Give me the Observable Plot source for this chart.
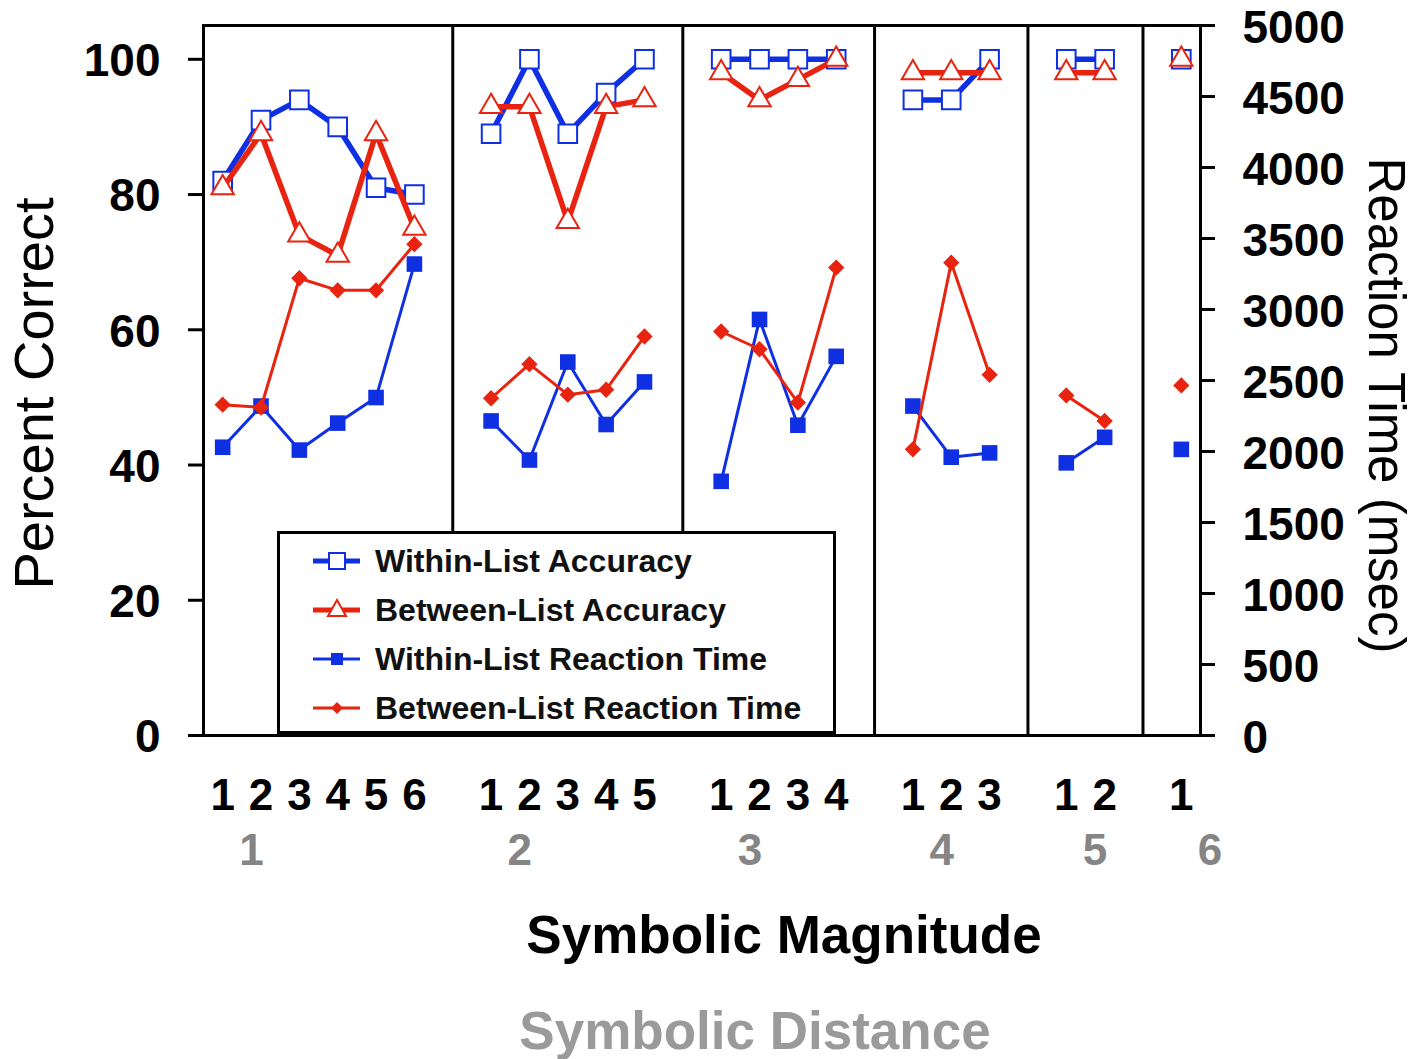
<!DOCTYPE html>
<html>
<head>
<meta charset="utf-8">
<script src="https://cdn.jsdelivr.net/npm/d3@7"></script>
<script src="https://cdn.jsdelivr.net/npm/@observablehq/plot@0.6"></script>
<style>
html, body { margin:0; padding:0; background:#fff; }
#wrap { position: relative; width: 1422px; height: 1059px; font-family: "Liberation Sans", Arial, sans-serif; overflow:hidden; }
#legend { position:absolute; left:277px; top:531px; width:559px; height:203px; box-sizing:border-box; border:3px solid #000; background:#fff; }
.row { position:absolute; left:0; height:40px; width:100%; }
.row svg { position:absolute; left:30px; top:5px; }
.row span { position:absolute; left:95px; top:0; line-height:40px; font-weight:bold; font-size:32px; color:#111; white-space:nowrap; }
</style>
</head>
<body>
<div id="wrap"></div>
<script>
// ---- data ----
const distance  = [1,1,1,1,1,1, 2,2,2,2,2, 3,3,3,3, 4,4,4, 5,5, 6];
const magnitude = [1,2,3,4,5,6, 1,2,3,4,5, 1,2,3,4, 1,2,3, 1,2, 1];
const withinAccuracy  = [82,91,94,90,81,80, 89,100,89,95,100, 100,100,100,100, 94,94,100, 100,100, 100];
const betweenAccuracy = [81,89,74,71,89,75, 93,93,76,93,94, 98,94,97,100, 98,98,98, 98,98, 100];
const withinRT  = [2030,2320,2010,2200,2380,3320, 2215,1940,2630,2190,2490, 1790,2930,2185,2670, 2320,1960,1990, 1920,2100, 2015];
const betweenRT = [2330,2310,3220,3135,3135,3460, 2375,2615,2400,2435,2810, 2845,2720,2345,3295, 2015,3330,2540, 2395,2215, 2465];
const accuracyTicks = [0,20,40,60,80,100];
const rtTicks = [0,500,1000,1500,2000,2500,3000,3500,4000,4500,5000];
const seriesNames = ["Within-List Accuracy","Between-List Accuracy","Within-List Reaction Time","Between-List Reaction Time"];

const BLUE = "#0f2fe3", RED = "#e8230f";
const yMax = 105, rtMax = 5000;
const toY = v => v * yMax / rtMax;

// slot layout: each distance group followed by a one-slot gap
const groups = Array.from(new Set(distance));
const groupSize = groups.map(g => distance.filter(d => d === g).length);
const groupOffset = new Map();
{ let o = 0; groups.forEach((g, k) => { groupOffset.set(g, o); o += groupSize[k] + 1; }); }
const rows = distance.map((d, i) => ({
  distance: d, magnitude: magnitude[i],
  slot: groupOffset.get(d) + magnitude[i] - 1,
  wAcc: withinAccuracy[i], bAcc: betweenAccuracy[i],
  wRT: withinRT[i], bRT: betweenRT[i]
}));
const separators = groups.slice(1).map(g => groupOffset.get(g) - 1);
const magByX = new Map(rows.map(r => [r.slot, r.magnitude]));
const distLabelX = groups.map(g => groupOffset.get(g) + 0.75);
const distByX = new Map(groups.map(g => [groupOffset.get(g) + 0.75, g]));
const rtY = rtTicks.map(toY);
const rtFormat = d => String(Math.round(d * rtMax / yMax));

const diamond = {draw(ctx, size) { const r = Math.sqrt(size / 2); ctx.moveTo(0, -r); ctx.lineTo(r, 0); ctx.lineTo(0, r); ctx.lineTo(-r, 0); ctx.closePath(); }};

const chart = Plot.plot({
  width: 1422, height: 1059,
  marginLeft: 203, marginRight: 222, marginTop: 25, marginBottom: 324,
  x: {domain: [-0.5, 25.5]},
  y: {domain: [0, yMax]},
  style: {fontFamily: "'Liberation Sans', Arial, sans-serif", background: "white", color: "black"},
  marks: [
    Plot.ruleX(separators, {y1: 0, y2: yMax, stroke: "#000", strokeWidth: 3}),
    // Within-list accuracy
    Plot.line(rows, {x: "slot", y: "wAcc", z: "distance", stroke: BLUE, strokeWidth: 5.5}),
    Plot.dot(rows, {x: "slot", y: "wAcc", symbol: "square", r: 10.5, stroke: BLUE, strokeWidth: 2, fill: "white"}),
    // Between-list accuracy
    Plot.line(rows, {x: "slot", y: "bAcc", z: "distance", stroke: RED, strokeWidth: 5.5}),
    Plot.dot(rows, {x: "slot", y: "bAcc", symbol: "triangle", r: 8.3, stroke: RED, strokeWidth: 2, fill: "white"}),
    // Within-list RT
    Plot.line(rows, {x: "slot", y: d => toY(d.wRT), z: "distance", stroke: BLUE, strokeWidth: 3}),
    Plot.dot(rows, {x: "slot", y: d => toY(d.wRT), symbol: "square", r: 8.8, fill: BLUE}),
    // Between-list RT
    Plot.line(rows, {x: "slot", y: d => toY(d.bRT), z: "distance", stroke: RED, strokeWidth: 3}),
    Plot.dot(rows, {x: "slot", y: d => toY(d.bRT), symbol: diamond, r: 6.5, fill: RED}),
    Plot.frame({stroke: "#000", strokeWidth: 3}),
    // left axis: ticks, then labels
    Plot.axisY(accuracyTicks, {anchor: "left", tickSize: 15, strokeWidth: 3, text: null, label: null}),
    Plot.axisY(accuracyTicks, {anchor: "left", tickSize: 0, tickPadding: 43, fontSize: 46, fontWeight: "bold", label: null, dy: 2}),
    // right axis (reaction time): ticks, then labels
    Plot.axisY(rtY, {anchor: "right", tickSize: 14, strokeWidth: 3, text: null, label: null}),
    Plot.axisY(rtY, {anchor: "right", tickSize: 0, tickPadding: 42, fontSize: 46, fontWeight: "bold", label: null, dy: 3, tickFormat: rtFormat}),
    // bottom labels
    Plot.axisX(rows.map(r => r.slot), {anchor: "bottom", tickSize: 0, tickPadding: 43, fontSize: 44, fontWeight: "bold", label: null,
      tickFormat: d => magByX.get(d)}),
    Plot.axisX(distLabelX, {anchor: "bottom", tickSize: 0, tickPadding: 98, fontSize: 44, fontWeight: "bold", fill: "#858585", label: null,
      tickFormat: d => distByX.get(d)}),
    // titles
    Plot.text(["Symbolic Magnitude"], {text: d => d, frameAnchor: "bottom", textAnchor: "middle", lineAnchor: "middle", dx: 82, dy: 201, fontSize: 53, fontWeight: "bold", fill: "#000"}),
    Plot.text(["Symbolic Distance"], {text: d => d, frameAnchor: "bottom", textAnchor: "middle", lineAnchor: "middle", dx: 53, dy: 297, fontSize: 53, fontWeight: "bold", fill: "#9a9a9a"}),
    Plot.text(["Percent Correct"], {text: d => d, frameAnchor: "left", textAnchor: "middle", lineAnchor: "middle", rotate: -90, dx: -168, dy: 13, fontSize: 56, fill: "#000"}),
    Plot.text(["Reaction Time (msec)"], {text: d => d, frameAnchor: "right", textAnchor: "middle", lineAnchor: "middle", rotate: 90, dx: 185, dy: 25, fontSize: 51, fill: "#000"})
  ]
});

const wrap = document.getElementById("wrap");
wrap.appendChild(chart);

// legend (boxed, overlaid on the plot like the reference)
const swatches = [
  `<line x1="3" x2="50" y1="15" y2="15" stroke="${BLUE}" stroke-width="5"/><rect x="19" y="7" width="16" height="16" fill="#fff" stroke="${BLUE}" stroke-width="2"/>`,
  `<line x1="3" x2="50" y1="15" y2="15" stroke="${RED}" stroke-width="5"/><polygon points="27,5 36,21 18,21" fill="#fff" stroke="${RED}" stroke-width="2"/>`,
  `<line x1="3" x2="50" y1="15" y2="15" stroke="${BLUE}" stroke-width="3"/><rect x="21" y="9" width="12" height="12" fill="${BLUE}"/>`,
  `<line x1="3" x2="50" y1="15" y2="15" stroke="${RED}" stroke-width="3"/><polygon points="27,9 33,15 27,21 21,15" fill="${RED}"/>`
];
const legend = document.createElement("div");
legend.id = "legend";
seriesNames.forEach((name, i) => {
  const row = document.createElement("div");
  row.className = "row";
  row.style.top = (7 + 49 * i) + "px";
  row.innerHTML = `<svg width="56" height="30">${swatches[i]}</svg><span>${name}</span>`;
  legend.appendChild(row);
});
wrap.appendChild(legend);
</script>
</body>
</html>
